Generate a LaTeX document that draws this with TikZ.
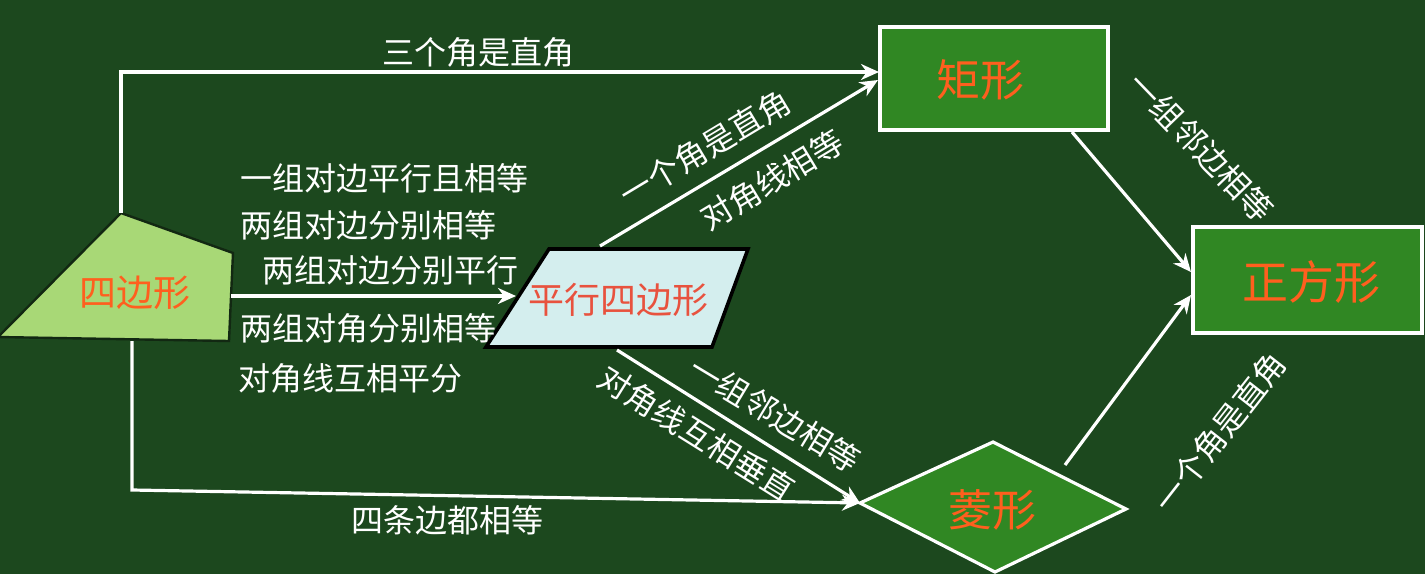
\documentclass[tikz,border=0pt]{standalone}
\usepackage{fontspec}
\newfontfamily\cjk{Noto Sans CJK SC}
\usetikzlibrary{arrows.meta}
\definecolor{bg}{RGB}{28,72,30}
\definecolor{boxg}{RGB}{48,135,35}
\definecolor{quadg}{RGB}{168,216,118}
\definecolor{paraf}{RGB}{212,238,238}
\definecolor{ttl}{RGB}{255,95,30}
\definecolor{pred}{RGB}{232,82,62}
\definecolor{edge}{RGB}{18,40,18}
\tikzset{
  conn/.style={white, line width=1.6pt, -{Stealth[length=9pt,width=8pt]}},
  lab/.style={text=white, font=\cjk\fontsize{16pt}{18pt}\selectfont, inner sep=1pt},
  ttlA/.style={text=ttl, font=\cjk\fontsize{22pt}{24pt}\selectfont},
  ttlB/.style={text=ttl, font=\cjk\fontsize{18.5pt}{20pt}\selectfont},
  whitebox/.style={draw=white, line width=1.6pt, fill=boxg, inner sep=0pt},
}
\begin{document}
\begin{tikzpicture}[x=0.5pt,y=-0.5pt]
\fill[bg] (0,0) rectangle (1425,574);
\useasboundingbox (0,0) rectangle (1425,574);

% quadrilateral
\coordinate (qt) at (121,213);
\coordinate (qr) at (233,253);
\coordinate (qb) at (229,341);
\coordinate (ql) at (-2,337);
\filldraw[fill=quadg, draw=edge, line width=1.2pt] (qt)--(qr)--(qb)--(ql)--cycle;
\node[ttlB] (quad) at (135,293) {四边形};
\coordinate (qR) at (231,296);
\coordinate (qB) at (132,341);

% parallelogram
\coordinate (p1) at (549,249);
\coordinate (p2) at (748,249);
\coordinate (p3) at (712,347);
\coordinate (p4) at (486,347);
\filldraw[fill=paraf, draw=black, line width=1.8pt] (p1)--(p2)--(p3)--(p4)--cycle;
\node[text=pred, font=\cjk\fontsize{18pt}{20pt}\selectfont] (para) at (618,300) {平行四边形};
\coordinate (pL) at (516,296);
\coordinate (pT) at (600,246);
\coordinate (pB) at (617,350);

% rectangle
\node[whitebox, minimum width=114pt, minimum height=51.5pt] (rect) at (994,78.5) {};
\node[ttlA] (rectT) at (980,80) {矩形};
\coordinate (rW) at (879,72);
\coordinate (rBL) at (878,80);
\coordinate (rB) at (1072,132);

% square
\node[whitebox, minimum width=114.5pt, minimum height=53pt] (sq) at (1307.5,280) {};
\node[ttlA, font=\cjk\fontsize{23pt}{25pt}\selectfont] (sqT) at (1311,282) {正方形};
\coordinate (sA) at (1191,272);
\coordinate (sB) at (1191,295);

% rhombus
\coordinate (h1) at (860,503);
\coordinate (h2) at (993,442);
\coordinate (h3) at (1126,509);
\coordinate (h4) at (995,572);
\filldraw[fill=boxg, draw=white, line width=1.6pt] (h1)--(h2)--(h3)--(h4)--cycle;
\node[ttlA] (rh) at (992,510) {菱形};
\coordinate (hTR) at (1065,465);

% connectors
\draw[conn] (qt) |- (rW);
\draw[conn] (qR) -- (pL);
\draw[conn] (qB) -- (132,490) -- (h1);
\draw[conn] (pT) -- (rBL);
\draw[conn] (pB) -- (h1);
\draw[conn] (rB) -- (sA);
\draw[conn] (hTR) -- (sB);

% labels
\node[lab] (l1) at (478,52) {三个角是直角};
\node[lab, anchor=west] (l2) at (238,178) {一组对边平行且相等};
\node[lab, anchor=west] (l3) at (238,225) {两组对边分别相等};
\node[lab, anchor=west] (l4) at (260,270) {两组对边分别平行};
\node[lab, anchor=west] (l5) at (238,328) {两组对角分别相等};
\node[lab, anchor=west] (l6) at (236,378) {对角线互相平分};
\node[lab] (l7) at (447,520) {四条边都相等};
\node[lab, rotate=31] (l8) at (705,148) {一个角是直角};
\node[lab, rotate=31] (l9) at (772,180) {对角线相等};
\node[lab, rotate=-31] (l10) at (775,414) {一组邻边相等};
\node[lab, rotate=-32] (l11) at (697,434) {对角线互相垂直};
\node[lab, rotate=-46] (l12) at (1201,147) {一组邻边相等};
\node[lab, rotate=52] (l13) at (1220,432) {一个角是直角};
\end{tikzpicture}
\end{document}
